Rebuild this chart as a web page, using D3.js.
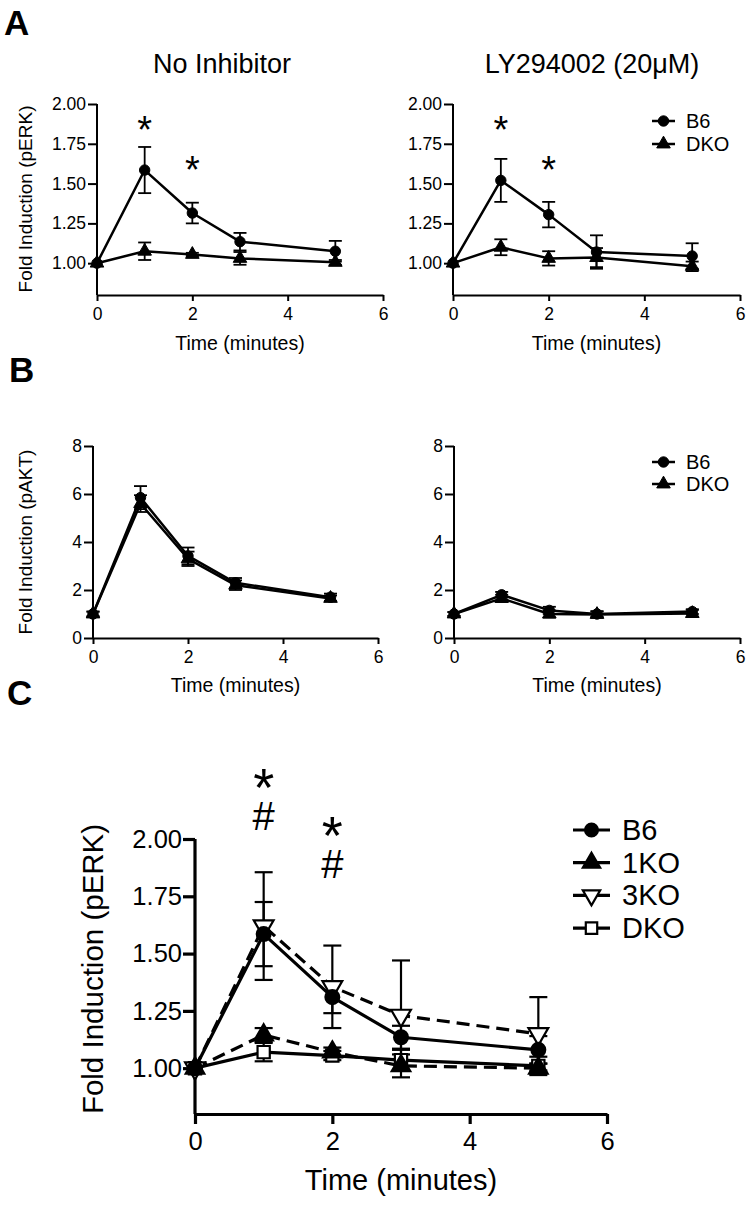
<!DOCTYPE html>
<html><head><meta charset="utf-8">
<script src="https://cdn.jsdelivr.net/npm/d3@7"></script>
<style>body{margin:0;background:#fff}svg{display:block}text{font-family:"Liberation Sans",Arial,Helvetica,sans-serif;fill:#000}</style>
</head><body>
<script>
// ---------- DATA ----------
const times = [0, 1, 2, 3, 5];
const xTicks = [0, 2, 4, 6];
const erkTicks = [1.00, 1.25, 1.50, 1.75, 2.00];
const aktTicks = [0, 2, 4, 6, 8];
const panelTitles = ["No Inhibitor", "LY294002 (20μM)"];
const panelLetters = ["A", "B", "C"];
const xTitle = "Time (minutes)";
const erkLabel = "Fold Induction (pERK)";
const aktLabel = "Fold Induction (pAKT)";

// Panel A, no inhibitor (pERK)
const aLeftB6 = [1.00, 1.585, 1.315, 1.135, 1.075];
const aLeftB6Err = [0, 0.145, 0.065, 0.055, 0.065];
const aLeftDKO = [1.00, 1.075, 1.055, 1.03, 1.005];
const aLeftDKOErr = [0, 0.055, 0.01, 0.04, 0.015];
// Panel A, LY294002 (pERK)
const aRightB6 = [1.00, 1.52, 1.305, 1.07, 1.045];
const aRightB6Err = [0, 0.135, 0.08, 0.105, 0.08];
const aRightDKO = [1.00, 1.10, 1.03, 1.035, 0.98];
const aRightDKOErr = [0, 0.05, 0.045, 0.06, 0.03];
// Panel B, no inhibitor (pAKT)
const bLeftB6 = [1.0, 5.85, 3.42, 2.3, 1.7];
const bLeftB6Err = [0.1, 0.48, 0.35, 0.2, 0.15];
const bLeftDKO = [1.0, 5.6, 3.3, 2.2, 1.65];
const bLeftDKOErr = [0.1, 0.35, 0.3, 0.2, 0.12];
// Panel B, LY294002 (pAKT)
const bRightB6 = [1.0, 1.8, 1.15, 1.0, 1.1];
const bRightB6Err = [0.08, 0.12, 0.15, 0.12, 0.1];
const bRightDKO = [1.0, 1.65, 1.0, 0.98, 1.02];
const bRightDKOErr = [0.08, 0.15, 0.15, 0.12, 0.15];
// Panel C (pERK)
const cB6 = [1.00, 1.585, 1.31, 1.135, 1.08];
const cB6Err = [0, 0.14, 0.07, 0.05, 0.06];
const c1KO = [1.00, 1.145, 1.07, 1.01, 1.00];
const c1KOErr = [0, 0.03, 0.02, 0.05, 0.02];
const c3KO = [1.00, 1.62, 1.355, 1.23, 1.15];
const c3KOErr = [0, 0.235, 0.18, 0.24, 0.16];
const cDKO = [1.00, 1.07, 1.055, 1.035, 1.01];
const cDKOErr = [0, 0.04, 0.02, 0.045, 0.04];

const legendAB = ["B6", "DKO"];
const legendC = ["B6", "1KO", "3KO", "DKO"];

// significance marks: time, level (in data units), symbols stacked top to bottom
const aLeftMarks = [{t: 1, v: 1.894, s: ["*"]}, {t: 2, v: 1.644, s: ["*"]}];
const aRightMarks = [{t: 1, v: 1.894, s: ["*"]}, {t: 2, v: 1.644, s: ["*"]}];
const cMarks = [{t: 1, v: 2.28, s: ["*", "#"]}, {t: 2, v: 2.07, s: ["*", "#"]}];

// ---------- DRAWING ----------
const W = 751, H = 1208;
const svg = d3.select("body").append("svg").attr("width", W).attr("height", H);

const shapes = {
  circle: {type: d3.symbolCircle, rot: 0, fill: "#000"},
  triUp: {type: d3.symbolTriangle, rot: 0, fill: "#000"},
  triDownOpen: {type: d3.symbolTriangle, rot: 180, fill: "#fff"},
  squareOpen: {type: d3.symbolSquare, rot: 0, fill: "#fff"}
};

function panel(o) {
  const g = svg.append("g");
  const x = d3.scaleLinear().domain([0, 6]).range(o.xRange);
  const y = d3.scaleLinear().domain(o.yDomain).range(o.yRange);

  const ya = g.append("g").attr("transform", `translate(${o.xRange[0]},0)`)
    .call(d3.axisLeft(y).tickValues(o.yTicks).tickFormat(o.yFmt).tickSize(o.tickY).tickPadding(o.padY).tickSizeOuter(0));
  const xa = g.append("g").attr("transform", `translate(0,${o.yRange[0]})`)
    .call(d3.axisBottom(x).tickValues(xTicks).tickFormat(d3.format("d")).tickSize(o.tickX).tickPadding(o.padX).tickSizeOuter(0));
  [ya, xa].forEach(a => {
    a.select(".domain").attr("stroke", "#000").attr("stroke-width", o.axisW);
    a.selectAll(".tick line").attr("stroke", "#000").attr("stroke-width", o.axisW);
    a.selectAll("text").attr("font-size", o.tickFs).attr("fill", "#000")
      .style("font-family", '"Liberation Sans",Arial,sans-serif');
  });
  ya.select(".domain").attr("d", `M0,${o.yRange[1]}V${o.yRange[0]}`);

  g.append("text").attr("x", (o.xRange[0] + o.xRange[1]) / 2).attr("y", o.xTitleY)
    .attr("text-anchor", "middle").attr("font-size", o.titleFs).text(xTitle);
  if (o.yLabel) {
    g.append("text").attr("transform", `translate(${o.yLabelX},${o.yLabelY}) rotate(-90)`)
      .attr("text-anchor", "middle").attr("dominant-baseline", "central")
      .attr("font-size", o.yLabelFs).text(o.yLabel);
  }

  const line = d3.line().x((d, i) => x(times[i])).y(d => y(d));
  o.series.forEach(s => {
    g.append("path").datum(s.values).attr("d", line).attr("fill", "none")
      .attr("stroke", "#000").attr("stroke-width", o.lineW)
      .attr("stroke-dasharray", s.dashed ? o.dash : null).attr("stroke-linejoin", "round");
  });
  o.series.forEach(s => {
    s.values.forEach((v, i) => {
      const e = s.errs[i];
      if (!e) return;
      const cx = x(times[i]);
      g.append("line").attr("x1", cx).attr("x2", cx).attr("y1", y(v - e)).attr("y2", y(v + e))
        .attr("stroke", "#000").attr("stroke-width", o.errW);
      [v - e, v + e].forEach(b => g.append("line").attr("x1", cx - o.cap).attr("x2", cx + o.cap)
        .attr("y1", y(b)).attr("y2", y(b)).attr("stroke", "#000").attr("stroke-width", o.errW));
    });
  });
  o.series.forEach(s => {
    const sh = shapes[s.shape];
    const sym = d3.symbol().type(sh.type).size(o.symSize[s.shape]);
    s.values.forEach((v, i) => {
      g.append("path").attr("d", sym())
        .attr("transform", `translate(${x(times[i])},${y(v)}) rotate(${sh.rot})`)
        .attr("fill", sh.fill).attr("stroke", "#000").attr("stroke-width", o.symStroke);
    });
  });
  (o.marks || []).forEach(m => {
    const cx = x(m.t);
    const t = g.append("text").attr("x", cx).attr("y", y(m.v) + 0.58 * o.starFs)
      .attr("text-anchor", "middle").attr("font-size", o.starFs);
    m.s.forEach((sym, k) => {
      const ts = t.append("tspan").attr("x", cx).text(sym);
      if (k > 0) ts.attr("font-size", o.hashFs).attr("dy", o.markGap);
    });
  });
  if (o.legend) {
    o.legend.names.forEach((n, i) => {
      const ly = o.legend.y0 + i * o.legend.dy;
      const s = o.series[o.legend.order[i]];
      g.append("line").attr("x1", o.legend.x0).attr("x2", o.legend.x1).attr("y1", ly).attr("y2", ly)
        .attr("stroke", "#000").attr("stroke-width", o.lineW);
      const sh = shapes[s.shape];
      g.append("path").attr("d", d3.symbol().type(sh.type).size(o.legSymSize || o.symSize[s.shape])())
        .attr("transform", `translate(${(o.legend.x0 + o.legend.x1) / 2},${ly}) rotate(${sh.rot})`)
        .attr("fill", sh.fill).attr("stroke", "#000").attr("stroke-width", o.symStroke);
      g.append("text").attr("x", o.legend.tx).attr("y", ly).attr("dominant-baseline", "central")
        .attr("font-size", o.legend.fs).text(n);
    });
  }
}

const smallCfg = {
  tickY: 9, tickX: 6, padY: 2, padX: 7, axisW: 2, lineW: 2.5, errW: 1.8, cap: 6.5,
  tickFs: 17.5, titleFs: 19.5, yLabelFs: 19, starFs: 38, hashFs: 38, markGap: 0,
  symSize: {circle: 85, triUp: 80, triDownOpen: 90, squareOpen: 90}, symStroke: 1,
  dash: "10,6"
};
const fmt2 = d3.format(".2f");

panel(Object.assign({}, smallCfg, {
  xRange: [97, 383], yRange: [295, 104], yDomain: [0.8, 2.0], yTicks: erkTicks, yFmt: fmt2,
  xTitleY: 350, yLabel: erkLabel, yLabelX: 25, yLabelY: 199,
  series: [{values: aLeftB6, errs: aLeftB6Err, shape: "circle"}, {values: aLeftDKO, errs: aLeftDKOErr, shape: "triUp"}],
  marks: aLeftMarks
}));
panel(Object.assign({}, smallCfg, {
  xRange: [453, 740], yRange: [295, 104], yDomain: [0.8, 2.0], yTicks: erkTicks, yFmt: fmt2,
  xTitleY: 350,
  series: [{values: aRightB6, errs: aRightB6Err, shape: "circle"}, {values: aRightDKO, errs: aRightDKOErr, shape: "triUp"}],
  marks: aRightMarks,
  legend: {names: legendAB, order: [0, 1], x0: 652, x1: 675, tx: 686, y0: 121, dy: 23, fs: 20}
}));
panel(Object.assign({}, smallCfg, {
  xRange: [93, 378], yRange: [638, 446], yDomain: [0, 8], yTicks: aktTicks, yFmt: d3.format("d"),
  xTitleY: 692, yLabel: aktLabel, yLabelX: 25, yLabelY: 542,
  series: [{values: bLeftB6, errs: bLeftB6Err, shape: "circle"}, {values: bLeftDKO, errs: bLeftDKOErr, shape: "triUp"}]
}));
panel(Object.assign({}, smallCfg, {
  xRange: [454, 740], yRange: [638, 446], yDomain: [0, 8], yTicks: aktTicks, yFmt: d3.format("d"),
  xTitleY: 692,
  series: [{values: bRightB6, errs: bRightB6Err, shape: "circle"}, {values: bRightDKO, errs: bRightDKOErr, shape: "triUp"}],
  legend: {names: legendAB, order: [0, 1], x0: 652, x1: 675, tx: 686, y0: 462, dy: 22, fs: 20}
}));
panel({
  xRange: [195, 607], yRange: [1114, 839], yDomain: [0.8, 2.0], yTicks: erkTicks, yFmt: fmt2,
  tickY: 12, tickX: 10, padY: 1, padX: 8, axisW: 3.2, lineW: 3.2, errW: 2.2, cap: 9,
  tickFs: 25.5, titleFs: 29, yLabelFs: 29.5, starFs: 54, hashFs: 40, markGap: 24,
  symSize: {circle: 150, triUp: 150, triDownOpen: 170, squareOpen: 150}, legSymSize: 130, symStroke: 2.2,
  dash: "13,7",
  xTitleY: 1190, yLabel: erkLabel, yLabelX: 92, yLabelY: 969,
  series: [
    {values: cDKO, errs: cDKOErr, shape: "squareOpen"},
    {values: c1KO, errs: c1KOErr, shape: "triUp", dashed: true},
    {values: c3KO, errs: c3KOErr, shape: "triDownOpen", dashed: true},
    {values: cB6, errs: cB6Err, shape: "circle"}
  ],
  marks: cMarks,
  legend: {names: legendC, order: [3, 1, 2, 0], x0: 573, x1: 610, tx: 622, y0: 830, dy: 32.7, fs: 29}
});

[[222, panelTitles[0]], [592, panelTitles[1]]].forEach(([cx, t]) =>
  svg.append("text").attr("x", cx).attr("y", 73).attr("text-anchor", "middle").attr("font-size", 27).text(t));
[[4, 35], [9, 382], [7, 705]].forEach(([lx, ly], i) =>
  svg.append("text").attr("x", lx).attr("y", ly).attr("font-size", 35).attr("font-weight", "bold").text(panelLetters[i]));
</script>
</body></html>
